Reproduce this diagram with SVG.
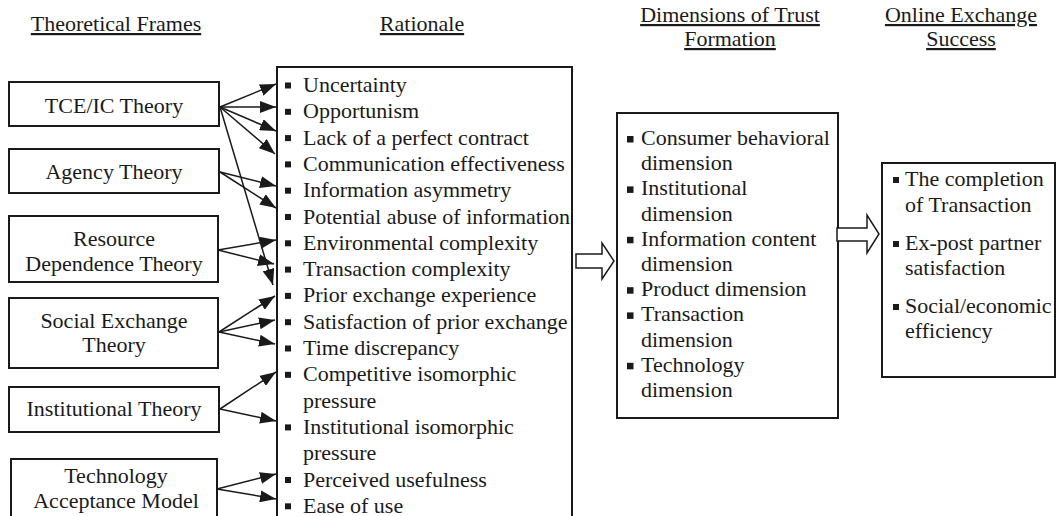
<svg xmlns="http://www.w3.org/2000/svg" width="1057" height="516" viewBox="0 0 1057 516">
<style>
text{font-family:"Liberation Serif","Times New Roman",serif;font-size:22px;fill:#1a1a1a}
.h{text-decoration:underline}
.c{text-anchor:middle}
.box{fill:#fff;stroke:#1a1a1a;stroke-width:2}
.con{stroke:#1a1a1a;stroke-width:1.5;fill:none;marker-end:url(#ah)}
.blt{fill:#1a1a1a}
.hol{fill:#fff;stroke:#1a1a1a;stroke-width:1.5}
</style>
<defs>
<marker id="ah" markerUnits="userSpaceOnUse" markerWidth="16" markerHeight="12" refX="16" refY="6" orient="auto">
<path d="M0,0 L16,6 L0,12 z" fill="#1a1a1a"/>
</marker>
</defs>
<rect width="1057" height="516" fill="#fff"/>
<g id="headers">
<text class="h c" x="116" y="31">Theoretical Frames</text>
<text class="h c" x="422" y="31">Rationale</text>
<text class="h c" x="730" y="22">Dimensions of Trust</text>
<text class="h c" x="730" y="46">Formation</text>
<text class="h c" x="961" y="22">Online Exchange</text>
<text class="h c" x="961" y="46">Success</text>
</g>
<g id="tce">
<rect class="box" x="9" y="82" width="210" height="44"/>
<text class="c" x="114" y="113">TCE/IC Theory</text>
</g>
<g id="agency">
<rect class="box" x="9" y="149" width="210" height="44"/>
<text class="c" x="114" y="179">Agency Theory</text>
</g>
<g id="resource">
<rect class="box" x="9" y="216" width="209" height="66"/>
<text class="c" x="114" y="246">Resource</text>
<text class="c" x="114" y="271">Dependence Theory</text>
</g>
<g id="social">
<rect class="box" x="9" y="298" width="209" height="70"/>
<text class="c" x="114" y="328">Social Exchange</text>
<text class="c" x="114" y="352">Theory</text>
</g>
<g id="institutional">
<rect class="box" x="9" y="387" width="210" height="45"/>
<text class="c" x="114" y="416">Institutional Theory</text>
</g>
<g id="technology">
<rect class="box" x="11" y="459" width="206" height="70"/>
<text class="c" x="116" y="483">Technology</text>
<text class="c" x="116" y="508">Acceptance Model</text>
</g>
<g id="rationale">
<rect class="box" x="277" y="67" width="295" height="470"/>
<rect class="blt" x="285" y="82.5" width="6" height="6"/><text x="303" y="92">Uncertainty</text>
<rect class="blt" x="285" y="108.8" width="6" height="6"/><text x="303" y="118.3">Opportunism</text>
<rect class="blt" x="285" y="135.1" width="6" height="6"/><text x="303" y="144.6">Lack of a perfect contract</text>
<rect class="blt" x="285" y="161.4" width="6" height="6"/><text x="303" y="170.9">Communication effectiveness</text>
<rect class="blt" x="285" y="187.7" width="6" height="6"/><text x="303" y="197.2">Information asymmetry</text>
<rect class="blt" x="285" y="214" width="6" height="6"/><text x="303" y="223.5">Potential abuse of information</text>
<rect class="blt" x="285" y="240.3" width="6" height="6"/><text x="303" y="249.8">Environmental complexity</text>
<rect class="blt" x="285" y="266.6" width="6" height="6"/><text x="303" y="276.1">Transaction complexity</text>
<rect class="blt" x="285" y="292.9" width="6" height="6"/><text x="303" y="302.4">Prior exchange experience</text>
<rect class="blt" x="285" y="319.2" width="6" height="6"/><text x="303" y="328.7">Satisfaction of prior exchange</text>
<rect class="blt" x="285" y="345.5" width="6" height="6"/><text x="303" y="355">Time discrepancy</text>
<rect class="blt" x="285" y="371.8" width="6" height="6"/><text x="303" y="381.3">Competitive isomorphic</text>
<text x="303" y="407.6">pressure</text>
<rect class="blt" x="285" y="424.4" width="6" height="6"/><text x="303" y="433.9">Institutional isomorphic</text>
<text x="303" y="460.2">pressure</text>
<rect class="blt" x="285" y="477" width="6" height="6"/><text x="303" y="486.5">Perceived usefulness</text>
<rect class="blt" x="285" y="503.3" width="6" height="6"/><text x="303" y="512.8">Ease of use</text>
</g>
<g id="dimensions">
<rect class="box" x="617" y="113" width="221" height="305"/>
<rect class="blt" x="627" y="136" width="6.5" height="6.5"/><text x="641" y="145">Consumer behavioral</text>
<text x="641" y="170.2">dimension</text>
<rect class="blt" x="627" y="186.4" width="6.5" height="6.5"/><text x="641" y="195.4">Institutional</text>
<text x="641" y="220.6">dimension</text>
<rect class="blt" x="627" y="236.8" width="6.5" height="6.5"/><text x="641" y="245.8">Information content</text>
<text x="641" y="271">dimension</text>
<rect class="blt" x="627" y="287.2" width="6.5" height="6.5"/><text x="641" y="296.2">Product dimension</text>
<rect class="blt" x="627" y="312.4" width="6.5" height="6.5"/><text x="641" y="321.4">Transaction</text>
<text x="641" y="346.6">dimension</text>
<rect class="blt" x="627" y="362.8" width="6.5" height="6.5"/><text x="641" y="371.8">Technology</text>
<text x="641" y="397">dimension</text>
</g>
<g id="success">
<rect class="box" x="882" y="163" width="173" height="214"/>
<rect class="blt" x="893" y="177" width="6" height="6"/><text x="905" y="186">The completion</text>
<text x="905" y="212">of Transaction</text>
<rect class="blt" x="893" y="241" width="6" height="6"/><text x="905" y="250">Ex-post partner</text>
<text x="905" y="275">satisfaction</text>
<rect class="blt" x="893" y="304" width="6" height="6"/><text x="905" y="313">Social/economic</text>
<text x="905" y="338">efficiency</text>
</g>
<g id="connectors">
<line class="con" x1="220" y1="107" x2="276" y2="84"/>
<line class="con" x1="220" y1="107" x2="276" y2="107"/>
<line class="con" x1="220" y1="107" x2="276" y2="131"/>
<line class="con" x1="220" y1="107" x2="275" y2="154"/>
<line class="con" x1="220" y1="107" x2="273" y2="285"/>
<line class="con" x1="220" y1="172" x2="276" y2="186"/>
<line class="con" x1="220" y1="172" x2="276" y2="208"/>
<line class="con" x1="218" y1="250" x2="276" y2="240"/>
<line class="con" x1="218" y1="250" x2="274" y2="264"/>
<line class="con" x1="219" y1="332" x2="275" y2="296"/>
<line class="con" x1="219" y1="332" x2="275" y2="320"/>
<line class="con" x1="219" y1="332" x2="275" y2="344"/>
<line class="con" x1="220" y1="409" x2="276" y2="372"/>
<line class="con" x1="220" y1="409" x2="276" y2="421"/>
<line class="con" x1="217" y1="489" x2="276" y2="474"/>
<line class="con" x1="217" y1="489" x2="276" y2="499"/>
<polygon class="hol" points="576,254 602,254 602,243 614,261 602,279 602,268 576,268"/>
<polygon class="hol" points="837,228 867,228 867,215 879,234 867,253 867,241 837,241"/>
</g>
</svg>
